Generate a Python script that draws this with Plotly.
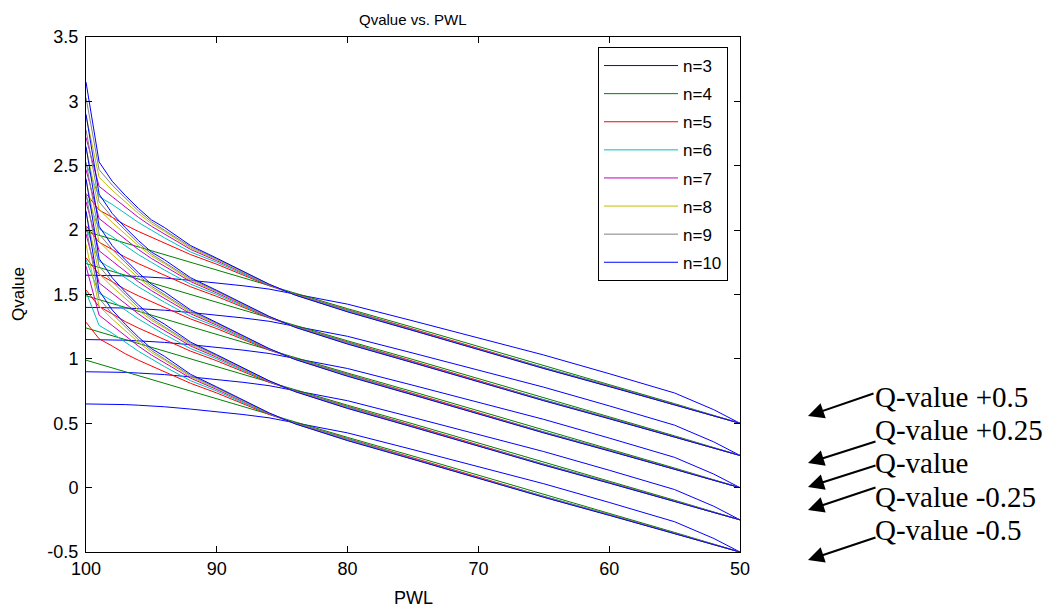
import plotly.graph_objects as go

# PWL sample positions (x axis, reversed 100 -> 50)
pwl = [100, 99, 98, 97, 96, 95, 94, 92, 90, 88, 86, 84, 82, 80, 75, 70, 65, 60, 55, 52, 50]

# Base Q-value curves (offset 0) for each n
q_n3 = [1.15, 1.15, 1.148, 1.145, 1.14, 1.135, 1.128, 1.11, 1.09, 1.068, 1.042, 1.003, 0.962, 0.925, 0.795, 0.665, 0.53, 0.385, 0.235, 0.105, 0.0]
q_n4 = [1.49, 1.46, 1.43, 1.40, 1.37, 1.34, 1.31, 1.25, 1.19, 1.13, 1.068, 1.008, 0.95, 0.89, 0.745, 0.595, 0.45, 0.30, 0.152, 0.062, 0.0]
q_n5 = [1.785, 1.656, 1.60, 1.54, 1.49, 1.445, 1.40, 1.31, 1.235, 1.15, 1.068, 1.001, 0.941, 0.877, 0.728, 0.578, 0.432, 0.291, 0.146, 0.059, 0.0]
q_n6 = [2.02, 1.76, 1.70, 1.63, 1.56, 1.50, 1.44, 1.33, 1.25, 1.16, 1.072, 0.999, 0.938, 0.874, 0.726, 0.576, 0.430, 0.290, 0.145, 0.058, 0.0]
q_n7 = [2.22, 1.84, 1.76, 1.68, 1.60, 1.53, 1.47, 1.35, 1.262, 1.167, 1.075, 0.998, 0.936, 0.871, 0.724, 0.574, 0.429, 0.288, 0.144, 0.057, 0.0]
q_n8 = [2.39, 1.91, 1.81, 1.72, 1.63, 1.55, 1.49, 1.36, 1.27, 1.172, 1.077, 0.997, 0.934, 0.869, 0.722, 0.572, 0.427, 0.287, 0.143, 0.057, 0.0]
q_n9 = [2.53, 1.97, 1.85, 1.75, 1.65, 1.565, 1.50, 1.37, 1.276, 1.176, 1.079, 0.996, 0.932, 0.867, 0.721, 0.571, 0.426, 0.286, 0.142, 0.056, 0.0]
q_n10 = [2.65, 2.03, 1.88, 1.77, 1.67, 1.58, 1.52, 1.38, 1.282, 1.18, 1.08, 0.995, 0.93, 0.865, 0.72, 0.57, 0.425, 0.285, 0.14, 0.056, 0.0]

series_names = ["n=3", "n=4", "n=5", "n=6", "n=7", "n=8", "n=9", "n=10"]
series_values = [q_n3, q_n4, q_n5, q_n6, q_n7, q_n8, q_n9, q_n10]
series_colors = ["#0000FF", "#008000", "#FF0000", "#00BFBF", "#BF00BF", "#BFBF00", "#808080", "#0000FF"]

# Q-value offsets (one family of curves each)
offsets = [0.5, 0.25, 0.0, -0.25, -0.5]
offset_labels = ["Q-value +0.5", "Q-value +0.25", "Q-value", "Q-value -0.25", "Q-value -0.5"]

fig = go.Figure()
for k, off in enumerate(offsets):
    for name, vals, col in zip(series_names, series_values, series_colors):
        fig.add_trace(go.Scatter(
            x=pwl, y=[v + off for v in vals], mode="lines",
            line=dict(color=col, width=1),
            name=name, legendgroup=name, showlegend=(k == 0),
        ))

# page has an 8px body margin; figure is sized so the plot area lands at these page pixels
PAGE_OFF = 8
W, H = 1055 - PAGE_OFF, 610 - PAGE_OFF
L, R, T, B = 86, 740, 37, 552

def px(xp):
    return (xp - L) / (R - L)

def py(yp):
    return (B - yp) / (B - T)

SANS = "Liberation Sans, Arial, sans-serif"
SERIF = "Liberation Serif, Times New Roman, serif"

# label text positions (page pixels) and arrow head/tail positions (page pixels)
label_y = [397, 430, 463, 497, 530]
arrow_tail = [(875, 393), (877, 441), (877, 465), (877, 487), (877, 537)]
arrow_head = [(808, 416), (808, 463), (808, 487), (808, 510), (808, 560)]

annotations = []
for lab, ly in zip(offset_labels, label_y):
    annotations.append(dict(
        xref="paper", yref="paper", x=px(873), y=py(ly), text=lab,
        showarrow=False, xanchor="left", yanchor="middle",
        font=dict(family=SERIF, size=29, color="black"),
    ))
for (tx, ty), (hx, hy) in zip(arrow_tail, arrow_head):
    annotations.append(dict(
        xref="paper", yref="paper", x=px(hx), y=py(hy), text="",
        showarrow=True, axref="pixel", ayref="pixel", ax=tx - hx, ay=ty - hy,
        arrowhead=2, arrowsize=1.6, arrowwidth=2, arrowcolor="black",
    ))
# axis titles
annotations.append(dict(xref="paper", yref="paper", x=0.5, y=py(598), text="PWL",
                        showarrow=False, xanchor="center", yanchor="middle",
                        font=dict(family=SANS, size=18, color="black")))
annotations.append(dict(xref="paper", yref="paper", x=px(18), y=py(294), text="Qvalue",
                        showarrow=False, xanchor="center", yanchor="middle", textangle=-90,
                        font=dict(family=SANS, size=17, color="black")))
# title (kept fully inside the figure)
annotations.append(dict(xref="paper", yref="paper", x=0.5, y=py(9), text="Qvalue vs. PWL",
                        showarrow=False, xanchor="center", yanchor="top",
                        font=dict(family=SANS, size=15, color="black")))

axis_common = dict(
    showgrid=False, zeroline=False, showline=True, linecolor="black", linewidth=1,
    mirror="ticks", ticks="inside", ticklen=6, tickcolor="black",
    tickfont=dict(family=SANS, size=18, color="black"),
)

fig.update_layout(
    width=W, height=H,
    margin=dict(l=L - PAGE_OFF, r=W - (R - PAGE_OFF), t=T - PAGE_OFF, b=H - (B - PAGE_OFF)),
    paper_bgcolor="white", plot_bgcolor="white",
    xaxis=dict(range=[100, 50], tickvals=[100, 90, 80, 70, 60, 50], **axis_common),
    yaxis=dict(range=[-0.5, 3.5], tickvals=[-0.5, 0, 0.5, 1, 1.5, 2, 2.5, 3, 3.5],
               ticktext=["-0.5", "0", "0.5", "1", "1.5", "2", "2.5", "3", "3.5"],
               ticklabelstandoff=3, **axis_common),
    legend=dict(x=px(728), y=py(47), xanchor="right", yanchor="top",
                bgcolor="white", bordercolor="black", borderwidth=1,
                font=dict(family=SANS, size=17, color="black"),
                tracegroupgap=3, itemwidth=74),
    annotations=annotations,
    showlegend=True,
)

fig.write_html("out.html")
